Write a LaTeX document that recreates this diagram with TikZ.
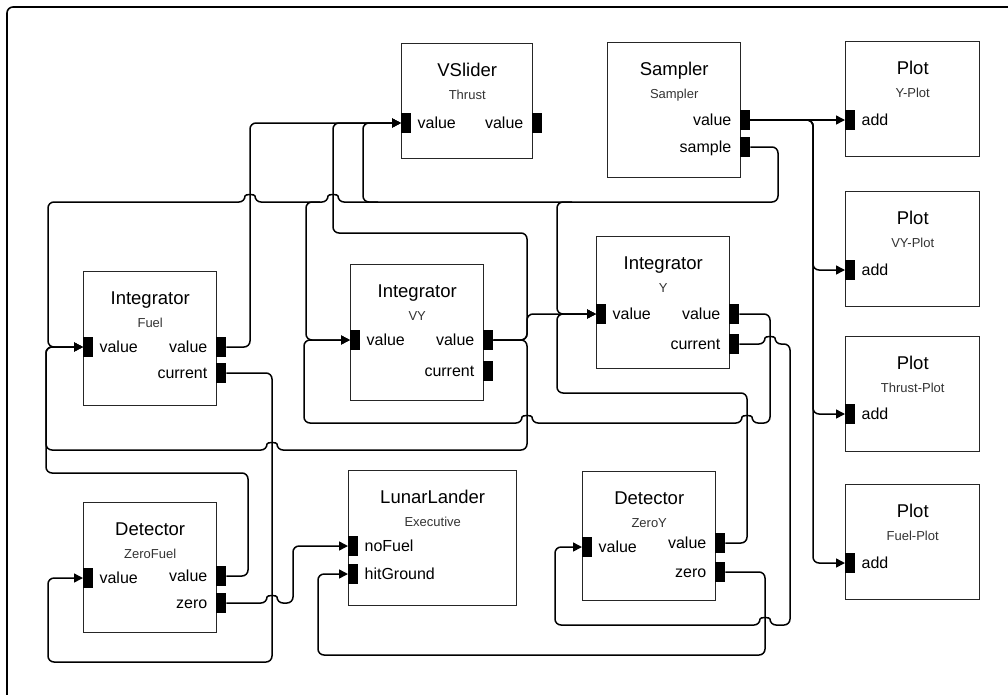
\documentclass[tikz,border=0pt]{standalone}
\usepackage{fontspec}
\setmainfont{Liberation Sans}
\usetikzlibrary{arrows.meta,calc}
\tikzset{
  blkbox/.style={draw=black!85, line width=1.4pt, fill=white, inner sep=0pt},
  port/.style={fill=black, minimum width=10pt, minimum height=20pt, inner sep=0pt, draw=none},
  ttl/.style={font=\fontsize{18.5}{20}\selectfont, inner sep=0pt},
  subt/.style={font=\fontsize{13}{15}\selectfont, text=black!80, inner sep=0pt},
  plbl/.style={font=\fontsize{16}{18}\selectfont, inner sep=0pt},
  wire/.style={line width=1.5pt, rounded corners=6pt},
  arr/.style={-{Triangle[length=9pt,width=9pt]}},
  frame/.style={line width=1.6pt, rounded corners=6pt},
}
% name, x, y, w, h, title, subtitle
\newcommand\mkblock[7]{%
  \node[blkbox, minimum width=#4pt, minimum height=#5pt, anchor=north west] (#1) at (#2,#3) {};
  \node[ttl, anchor=base] (#1-t) at ($(#1.north)+(0,33)$) {#6};
  \node[subt, anchor=base] (#1-s) at ($(#1.north)+(0,56)$) {#7};
}
% name, x, y, label
\newcommand\inport[4]{%
  \node[port, anchor=west] (#1) at (#2,#3) {};
  \node[plbl, anchor=base west] (#1-l) at ($(#1.east)+(6,5.5)$) {#4};
}
\newcommand\outport[4]{%
  \node[port, anchor=west] (#1) at (#2,#3) {};
  \node[plbl, anchor=base east] (#1-l) at ($(#1.west)+(-8.5,5.5)$) {#4};
}
\begin{document}
\begin{tikzpicture}[x=1pt,y=-1pt]
\useasboundingbox (0,0) rectangle (1008,694);
\draw[frame] (7,730) -- (7,7) -- (1040,7);

% blocks
\mkblock{vs}{401}{43}{131}{115}{VSlider}{Thrust}
\inport{vs-in}{401}{123}{value}
\outport{vs-out}{532}{123}{value}

\mkblock{sm}{607}{42}{133}{135}{Sampler}{Sampler}
\outport{sm-val}{740}{120}{value}
\outport{sm-smp}{740}{147}{sample}

\mkblock{py}{845}{41}{134}{115}{Plot}{Y-Plot}
\inport{py-add}{845}{120}{add}
\mkblock{pvy}{845}{191}{134}{115}{Plot}{VY-Plot}
\inport{pvy-add}{845}{270}{add}
\mkblock{pth}{845}{336}{134}{115}{Plot}{Thrust-Plot}
\inport{pth-add}{845}{414}{add}
\mkblock{pfu}{845}{484}{134}{115}{Plot}{Fuel-Plot}
\inport{pfu-add}{845}{563}{add}

\mkblock{if}{83}{271}{133}{134}{Integrator}{Fuel}
\inport{if-in}{83}{347}{value}
\outport{if-val}{216}{347}{value}
\outport{if-cur}{216}{373}{current}

\mkblock{iv}{350}{264}{133}{136}{Integrator}{VY}
\inport{iv-in}{350}{340}{value}
\outport{iv-val}{483}{340}{value}
\outport{iv-cur}{483}{371}{current}

\mkblock{iy}{596}{236}{133}{132}{Integrator}{Y}
\inport{iy-in}{596}{314}{value}
\outport{iy-val}{729}{314}{value}
\outport{iy-cur}{729}{344}{current}

\mkblock{zf}{83}{502}{133}{130}{Detector}{ZeroFuel}
\inport{zf-in}{83}{578}{value}
\outport{zf-val}{216}{576}{value}
\outport{zf-zero}{216}{603}{zero}

\mkblock{ll}{348}{470}{168}{135}{LunarLander}{Executive}
\inport{ll-nf}{348}{546}{noFuel}
\inport{ll-hg}{348}{574}{hitGround}

\mkblock{zy}{582}{471}{133}{129}{Detector}{ZeroY}
\inport{zy-in}{582}{547}{value}
\outport{zy-val}{715}{543}{value}
\outport{zy-zero}{715}{572}{zero}

% Sampler.value -> plots
\draw[wire,arr] (sm-val.east) -- (py-add.west);
\draw[wire,arr] (sm-val.east) -- (813,120) |- (pvy-add.west);
\draw[wire,arr] (sm-val.east) -- (813,120) |- (pth-add.west);
\draw[wire,arr] (sm-val.east) -- (813,120) |- (pfu-add.west);

% Sampler.sample trigger line
\draw[wire,arr] (sm-smp.east) -| (778,202) -- (338,202)
  .. controls (338,194) and (328,194) .. (328,202) -- (255,202)
  .. controls (255,194) and (245,194) .. (245,202) -- (48,202) |- (if-in.west);
\coordinate (b363) at (378,202);
\draw[wire,arr] (b363) -- (363,202) |- (vs-in.west);
\coordinate (b306) at (320,202);
\draw[wire,arr] (b306) -- (306,202) |- (iv-in.west);
\coordinate (b557) at (572,202);
\draw[wire,arr] (b557) -- (557,202) |- (iy-in.west);

% Integrator Fuel value -> VSlider
\draw[wire,arr] (if-val.east) -| (250,123) -- (vs-in.west);
% Integrator VY value
\draw[wire,arr] (iv-val.east) -- (527,340) -- (527,233) -- (333,233) |- (vs-in.west);
\draw[wire,arr] (iv-val.east) -- (527,340) |- (iy-in.west);
\draw[wire,arr] (iv-val.east) -- (527,340) -- (527,450) -- (277,450)
  .. controls (277,442) and (267,442) .. (267,450) -- (46,450) |- (if-in.west);
% Integrator Y value
\draw[wire,arr] (iy-val.east) -- (770,314) -- (770,423) -- (752,423)
  .. controls (752,415) and (742,415) .. (742,423) -- (532,423)
  .. controls (532,415) and (522,415) .. (522,423) -- (304,423) |- (iv-in.west);
% Detector ZeroY value
\draw[wire,arr] (zy-val.east) -- (747,543) -- (747,393) -- (557,393) |- (iy-in.west);
% Integrator Y current -> ZeroY
\draw[wire,arr] (iy-cur.east) -- (765,344)
  .. controls (765,336) and (775,336) .. (775,344) -- (790,344) -- (790,625) -- (770,625)
  .. controls (770,617) and (760,617) .. (760,625) -- (555,625) |- (zy-in.west);
% ZeroY zero -> hitGround
\draw[wire,arr] (zy-zero.east) -| (765,655) -- (318,655) |- (ll-hg.west);
% Integrator Fuel current -> ZeroFuel
\draw[wire,arr] (if-cur.east) -| (272,662) -- (48,662) |- (zf-in.west);
% ZeroFuel value -> Integrator Fuel
\draw[wire,arr] (zf-val.east) -| (248,473) -- (46,473) |- (if-in.west);
% ZeroFuel zero -> noFuel
\draw[wire,arr] (zf-zero.east) -- (267,603)
  .. controls (267,595) and (277,595) .. (277,603) -- (293,603) |- (ll-nf.west);
\end{tikzpicture}
\end{document}
